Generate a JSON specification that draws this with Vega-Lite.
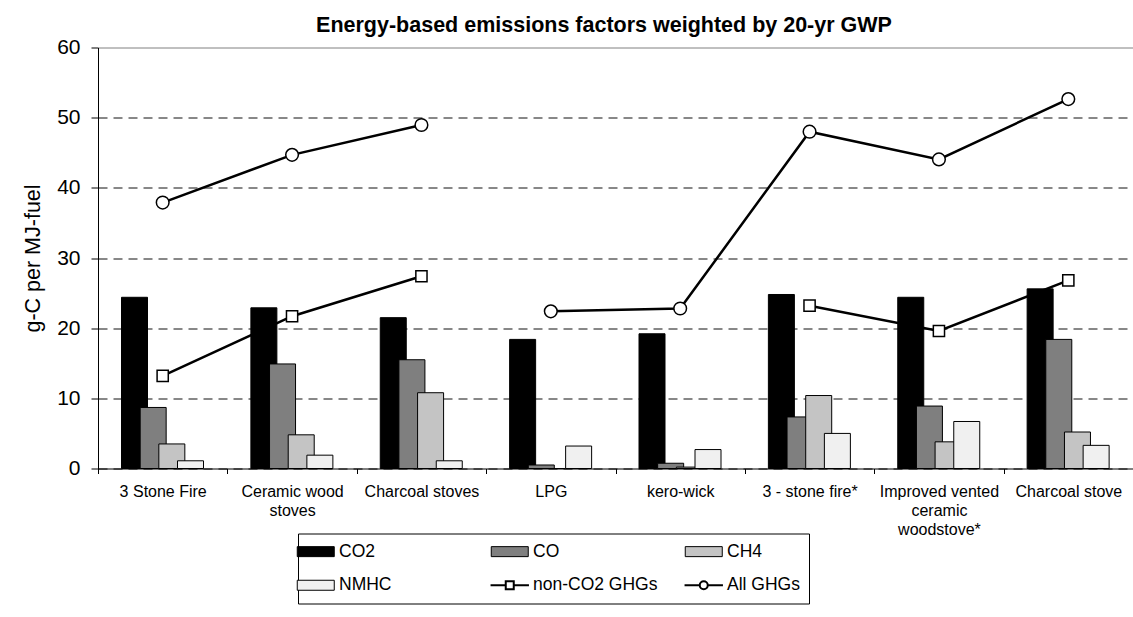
{
  "$schema": "https://vega.github.io/schema/vega-lite/v6.json",
  "width": 1035,
  "height": 421,
  "autosize": {"type": "none"},
  "padding": {"left": 98, "top": 47.5, "right": 0, "bottom": 148.5},
  "background": "white",
  "title": {
    "text": "Energy-based emissions factors weighted by 20-yr GWP",
    "font": "Liberation Sans",
    "fontSize": 21.5,
    "fontWeight": "bold",
    "color": "black",
    "anchor": "middle",
    "dx": -11.5,
    "dy": 23,
    "offset": 6,
    "baseline": "alphabetic"
  },
  "config": {"view": {"stroke": null}, "font": "Liberation Sans"},
  "datasets": {
    "bars": [
      {"cat": "3 Stone Fire", "series": "CO2", "value": 24.4},
      {"cat": "3 Stone Fire", "series": "CO", "value": 8.7},
      {"cat": "3 Stone Fire", "series": "CH4", "value": 3.5},
      {"cat": "3 Stone Fire", "series": "NMHC", "value": 1.1},
      {"cat": "Ceramic wood stoves", "series": "CO2", "value": 22.9},
      {"cat": "Ceramic wood stoves", "series": "CO", "value": 14.9},
      {"cat": "Ceramic wood stoves", "series": "CH4", "value": 4.8},
      {"cat": "Ceramic wood stoves", "series": "NMHC", "value": 1.9},
      {"cat": "Charcoal stoves", "series": "CO2", "value": 21.5},
      {"cat": "Charcoal stoves", "series": "CO", "value": 15.5},
      {"cat": "Charcoal stoves", "series": "CH4", "value": 10.8},
      {"cat": "Charcoal stoves", "series": "NMHC", "value": 1.1},
      {"cat": "LPG", "series": "CO2", "value": 18.4},
      {"cat": "LPG", "series": "CO", "value": 0.5},
      {"cat": "LPG", "series": "CH4", "value": 0},
      {"cat": "LPG", "series": "NMHC", "value": 3.2},
      {"cat": "kero-wick", "series": "CO2", "value": 19.2},
      {"cat": "kero-wick", "series": "CO", "value": 0.75},
      {"cat": "kero-wick", "series": "CH4", "value": 0.2},
      {"cat": "kero-wick", "series": "NMHC", "value": 2.7},
      {"cat": "3 - stone fire*", "series": "CO2", "value": 24.8},
      {"cat": "3 - stone fire*", "series": "CO", "value": 7.35},
      {"cat": "3 - stone fire*", "series": "CH4", "value": 10.4},
      {"cat": "3 - stone fire*", "series": "NMHC", "value": 5.0},
      {"cat": "Improved vented ceramic woodstove*", "series": "CO2", "value": 24.4},
      {"cat": "Improved vented ceramic woodstove*", "series": "CO", "value": 8.9},
      {"cat": "Improved vented ceramic woodstove*", "series": "CH4", "value": 3.8},
      {"cat": "Improved vented ceramic woodstove*", "series": "NMHC", "value": 6.7},
      {"cat": "Charcoal stove", "series": "CO2", "value": 25.6},
      {"cat": "Charcoal stove", "series": "CO", "value": 18.4},
      {"cat": "Charcoal stove", "series": "CH4", "value": 5.2},
      {"cat": "Charcoal stove", "series": "NMHC", "value": 3.3}
    ],
    "lines": [
      {"cat": "3 Stone Fire", "i": 1, "series": "non-CO2 GHGs", "seg": "non-a", "value": 13.2},
      {"cat": "Ceramic wood stoves", "i": 2, "series": "non-CO2 GHGs", "seg": "non-a", "value": 21.7},
      {"cat": "Charcoal stoves", "i": 3, "series": "non-CO2 GHGs", "seg": "non-a", "value": 27.4},
      {"cat": "3 - stone fire*", "i": 6, "series": "non-CO2 GHGs", "seg": "non-b", "value": 23.2},
      {"cat": "Improved vented ceramic woodstove*", "i": 7, "series": "non-CO2 GHGs", "seg": "non-b", "value": 19.6},
      {"cat": "Charcoal stove", "i": 8, "series": "non-CO2 GHGs", "seg": "non-b", "value": 26.8},
      {"cat": "3 Stone Fire", "i": 1, "series": "All GHGs", "seg": "all-a", "value": 37.9},
      {"cat": "Ceramic wood stoves", "i": 2, "series": "All GHGs", "seg": "all-a", "value": 44.7},
      {"cat": "Charcoal stoves", "i": 3, "series": "All GHGs", "seg": "all-a", "value": 48.95},
      {"cat": "LPG", "i": 4, "series": "All GHGs", "seg": "all-b", "value": 22.4},
      {"cat": "kero-wick", "i": 5, "series": "All GHGs", "seg": "all-b", "value": 22.8},
      {"cat": "3 - stone fire*", "i": 6, "series": "All GHGs", "seg": "all-b", "value": 48.0},
      {"cat": "Improved vented ceramic woodstove*", "i": 7, "series": "All GHGs", "seg": "all-b", "value": 44.05},
      {"cat": "Charcoal stove", "i": 8, "series": "All GHGs", "seg": "all-b", "value": 52.65}
    ]
  },
  "encoding": {
    "x": {
      "field": "cat",
      "type": "nominal",
      "scale": {
        "domain": ["3 Stone Fire", "Ceramic wood stoves", "Charcoal stoves", "LPG", "kero-wick", "3 - stone fire*", "Improved vented ceramic woodstove*", "Charcoal stove"],
        "paddingInner": 0,
        "paddingOuter": 0
      },
      "axis": {
        "title": null,
        "labelAngle": 0,
        "tickBand": "extent",
        "tickSize": 5,
        "tickColor": "black",
        "domainColor": "black",
        "labelFontSize": 16,
        "labelColor": "black",
        "labelPadding": 10,
        "labelLineHeight": 19,
        "labelLimit": 300,
        "labelExpr": "datum.value === 'Ceramic wood stoves' ? ['Ceramic wood', 'stoves'] : datum.value === 'Improved vented ceramic woodstove*' ? ['Improved vented', 'ceramic', 'woodstove*'] : datum.label"
      }
    },
    "y": {
      "field": "value",
      "type": "quantitative",
      "scale": {"domain": [0, 60], "nice": false},
      "axis": {
        "title": "g-C per MJ-fuel",
        "titleFontSize": 21.5,
        "titleFontWeight": "normal",
        "titleColor": "black",
        "titlePadding": 12,
        "values": [0, 10, 20, 30, 40, 50, 60],
        "labelFontSize": 21,
        "labelColor": "black",
        "labelPadding": 11,
        "tickSize": 7,
        "tickColor": "black",
        "domainColor": "black",
        "grid": true,
        "gridOpacity": 1,
        "gridColor": {"condition": {"test": "datum.value === 60", "value": "#808080"}, "value": "#111111"},
        "gridDash": {"condition": {"test": "datum.value === 60", "value": []}, "value": [9, 6]}
      }
    }
  },
  "layer": [
    {
      "data": {"name": "bars"},
      "mark": {"type": "bar", "width": 26, "stroke": "black", "strokeWidth": 1},
      "encoding": {
        "xOffset": {
          "field": "series",
          "type": "nominal",
          "scale": {"type": "point", "domain": ["CO2", "CO", "CH4", "NMHC"], "range": [36.5, 92.5], "padding": 0}
        },
        "fill": {
          "field": "series",
          "type": "nominal",
          "scale": {
            "domain": ["CO2", "CO", "CH4", "NMHC", "non-CO2 GHGs", "All GHGs"],
            "range": ["#000000", "#7f7f7f", "#c4c4c4", "#f0f0f0", "#ffffff", "#ffffff"]
          },
          "legend": {
            "orient": "none",
            "legendX": 200,
            "legendY": 486,
            "title": null,
            "direction": "horizontal",
            "columns": 3,
            "gridAlign": "all",
            "columnPadding": 22,
            "rowPadding": 15,
            "padding": 9,
            "strokeColor": "black",
            "fillColor": "white",
            "labelFontSize": 17.5,
            "labelColor": "black",
            "labelOffset": 14.5,
            "symbolOffset": 0,
            "symbolSize": 400,
            "symbolStrokeColor": "black",
            "symbolStrokeWidth": 1,
            "symbolType": "M-1.85,-0.5H1.85V0.5H-1.85Z",
            "encode": {
              "symbols": {
                "update": {
                  "shape": {"signal": "datum.label === 'non-CO2 GHGs' ? 'M-1.92,0H-0.4M0.4,0H1.92M-0.4,-0.4H0.4V0.4H-0.4Z' : datum.label === 'All GHGs' ? 'M-1.92,0H-0.4M0.4,0H1.92M-0.4,0A0.4,0.4 0 1,0 0.4,0A0.4,0.4 0 1,0 -0.4,0Z' : 'M-1.85,-0.5H1.85V0.5H-1.85Z'"},
                  "strokeWidth": {"signal": "datum.label === 'non-CO2 GHGs' || datum.label === 'All GHGs' ? 2 : 1"}
                }
              }
            }
          }
        }
      }
    },
    {
      "data": {"name": "lines"},
      "mark": {"type": "line", "color": "black", "strokeWidth": 2.5},
      "encoding": {
        "detail": {"field": "seg", "type": "nominal"},
        "order": {"field": "i", "type": "quantitative"}
      }
    },
    {
      "data": {"name": "lines"},
      "mark": {"type": "point", "filled": true, "fill": "white", "stroke": "black", "strokeWidth": 1.5, "opacity": 1},
      "encoding": {
        "shape": {"field": "series", "type": "nominal", "scale": {"domain": ["non-CO2 GHGs", "All GHGs"], "range": ["square", "circle"]}, "legend": null},
        "size": {"field": "series", "type": "nominal", "scale": {"domain": ["non-CO2 GHGs", "All GHGs"], "range": [125, 160]}, "legend": null}
      }
    }
  ]
}
